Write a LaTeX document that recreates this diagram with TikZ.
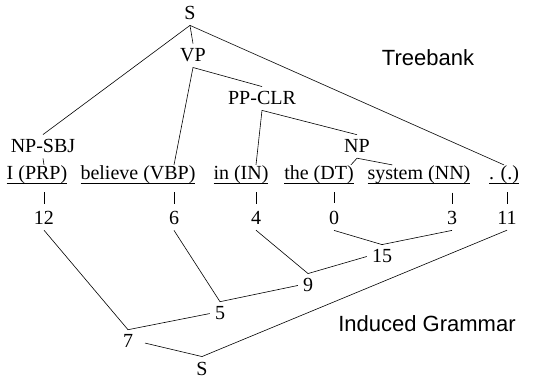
\documentclass[tikz,border=0pt]{standalone}
\usepackage{fontspec}
\setmainfont{Liberation Serif}
\setsansfont{Liberation Sans}
\usetikzlibrary{calc}
\def\wordline#1{\setbox0\hbox{#1}\rlap{\rule[-4pt]{\wd0}{0.6pt}}\box0}

\begin{document}
\begin{tikzpicture}[x=1pt, y=-1pt,
		lab/.style={anchor=base, inner xsep=5pt, inner ysep=5pt, font=\fontsize{20}{24}\selectfont},
		wordlab/.style={lab, inner ysep=1pt},
		sidelabel/.style={anchor=base, font=\sffamily\fontsize{22}{26}\selectfont},
		branch/.style={line width=0.6pt},
		wordtick/.style={branch, shorten <=7pt, shorten >=3pt}]
			%%%%% START %%%%%
			\useasboundingbox (0, 0) rectangle (533, 379);
			
			% treebank
			\node[lab] (stop) at (190, 20) {S};
			\node[lab] (vp) at (193, 62) {VP};
			\node[lab] (ppclr) at (262, 105) {PP-CLR};
			\node[lab] (npsbj) at (43, 153) {NP-SBJ};
			\node[lab] (np) at (357, 153) {NP};
			\node[sidelabel] (treebank) at (428, 66) {Treebank};
			
			% words
			\node[wordlab] (wi) at (37, 180) {\wordline{I (PRP)}};
			\node[wordlab] (wbelieve) at (138, 180) {\wordline{believe (VBP)}};
			\node[wordlab] (win) at (241, 180) {\wordline{in (IN)}};
			\node[wordlab] (wthe) at (319, 180) {\wordline{the (DT)}};
			\node[wordlab] (wsystem) at (419, 180) {\wordline{system (NN)}};
			\node[wordlab] (wdot) at (504, 180) {\wordline{. (.)}};
			
			% induced grammar
			\node[lab] (n12) at (44, 225) {12};
			\node[lab] (n6) at (174, 225) {6};
			\node[lab] (n4) at (256, 225) {4};
			\node[lab] (n0) at (334, 225) {0};
			\node[lab] (n3) at (452, 225) {3};
			\node[lab] (n11) at (507, 225) {11};
			\node[lab] (n15) at (382, 263) {15};
			\node[lab] (n9) at (308, 292) {9};
			\node[lab] (n5) at (220, 320) {5};
			\node[lab] (n7) at (128, 348) {7};
			\node[lab] (sbot) at (202, 375) {S};
			\node[sidelabel] (induced) at (427, 332) {Induced Grammar};
			
			\draw[branch] (stop.south) -- (npsbj.north);
			\draw[branch] (stop.south) -- (vp.north);
			\draw[branch] (stop.south) -- (wdot.north);
			\draw[branch] (wbelieve.north -| n6) -- (vp.south) -- (ppclr.north);
			\draw[branch] (win.north -| n4) -- (ppclr.south) -- (np.north);
			\draw[branch] ($(wthe.north east)+(-8, 0)$) -- (np.south) -- ($(wsystem.north west)+(30, 0)$);
			\draw[branch] (npsbj.south) -- (wi.north -| n12);
			
			\draw[wordtick] (wi.south -| n12) -- (n12.north);
			\draw[wordtick] (wbelieve.south -| n6) -- (n6.north);
			\draw[wordtick] (win.south -| n4) -- (n4.north);
			\draw[wordtick] (wthe.south -| n0) -- (n0.north);
			\draw[wordtick] (wsystem.south -| n3) -- (n3.north);
			\draw[wordtick] (wdot.south -| n11) -- (n11.north);
			
			\draw[branch] (n0.south) -- (n15.north) -- (n3.south);
			\draw[branch] (n4.south) -- (n9.north) -- (n15.west);
			\draw[branch] (n6.south) -- (n5.north) -- (n9.west);
			\draw[branch] (n12.south) -- (n7.north) -- (n5.west);
			\draw[branch, shorten <=7pt] (n7.east) -- (sbot.north) -- (n11.south);
			
			%%%%% END %%%%%
\end{tikzpicture}
\end{document}
